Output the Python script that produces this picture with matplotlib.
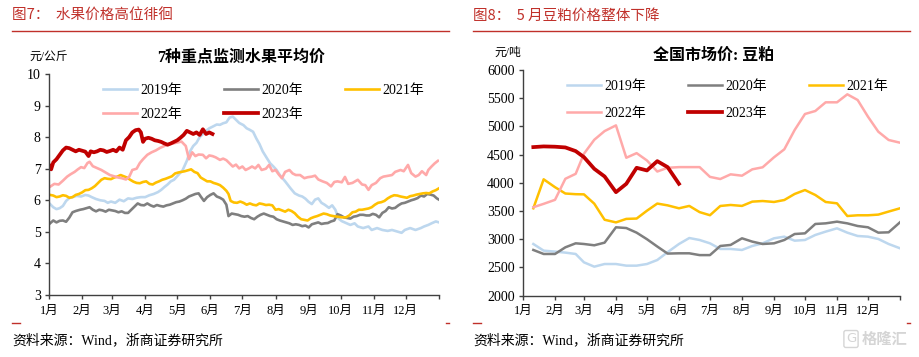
import matplotlib
matplotlib.use('Agg')
import matplotlib.pyplot as plt
from matplotlib.lines import Line2D
import pandas as pd

plt.rcParams['font.family'] = ['Liberation Serif', 'Noto Sans CJK SC', 'DejaVu Sans']

# ---------------- data ----------------
month_labels = ['1月', '2月', '3月', '4月', '5月', '6月', '7月', '8月', '9月', '10月', '11月', '12月', '']
month_start_days = [0, 31, 59, 90, 120, 151, 181, 212, 243, 273, 304, 334, 365]
years = ['2019年', '2020年', '2021年', '2022年', '2023年']

# Left: 7 key fruits average price (yuan/kg), day of year -> value
fruit_2019_days = [1, 4, 7, 10, 13, 16, 19, 22, 26, 30, 34, 37, 40, 44, 48, 52, 55, 58, 62, 66, 70, 74, 78, 82, 86, 90,
                   94, 98, 102, 105, 108, 111, 114, 117, 121, 125, 129, 132, 135, 138, 141, 144, 147, 150, 153, 157,
                   160, 163, 166, 169, 172, 175, 178, 182, 185, 188, 191, 194, 197, 200, 204, 207, 210, 213, 216, 221,
                   226, 230, 234, 237, 240, 243, 246, 249, 252, 255, 258, 262, 265, 268, 271, 274, 278, 282, 286, 289,
                   294, 299, 302, 307, 312, 317, 321, 326, 330, 333, 338, 343, 348, 351, 355, 358, 362, 365]
fruit_2019 = [5.88, 5.78, 5.72, 5.75, 5.82, 5.98, 6.07, 6.10, 6.14, 6.12, 6.17, 6.15, 6.10, 6.04, 6.00, 5.98, 5.92,
              5.96, 5.92, 6.02, 5.97, 6.06, 6.04, 6.08, 6.10, 6.10, 6.16, 6.20, 6.26, 6.33, 6.42, 6.50, 6.60, 6.65,
              6.80, 6.95, 7.25, 7.55, 7.72, 7.82, 8.00, 8.10, 8.20, 8.28, 8.33, 8.40, 8.39, 8.44, 8.47, 8.62, 8.65,
              8.55, 8.45, 8.38, 8.28, 8.23, 8.17, 7.96, 7.78, 7.55, 7.33, 7.17, 7.07, 6.96, 6.80, 6.60, 6.38, 6.22,
              6.15, 6.12, 6.05, 5.95, 5.88, 6.02, 6.06, 5.92, 5.86, 5.76, 5.84, 5.70, 5.42, 5.34, 5.28, 5.22, 5.27,
              5.17, 5.12, 5.17, 5.06, 5.12, 5.06, 5.03, 5.06, 5.01, 4.97, 5.06, 5.12, 5.06, 5.12, 5.17, 5.22, 5.27,
              5.33, 5.30]

fruit_2020_days = [1, 4, 7, 10, 13, 16, 19, 22, 25, 29, 32, 35, 38, 41, 44, 47, 50, 53, 56, 59, 62, 65, 68, 71, 74, 77,
                   80, 83, 86, 89, 92, 95, 98, 101, 104, 107, 110, 113, 116, 119, 122, 125, 128, 131, 134, 137, 140,
                   142, 145, 148, 151, 154, 157, 160, 163, 166, 168, 171, 174, 177, 180, 183, 186, 189, 192, 195, 198,
                   201, 204, 207, 210, 213, 216, 219, 222, 225, 228, 231, 234, 237, 240, 243, 246, 249, 252, 255, 258,
                   261, 264, 267, 270, 273, 276, 279, 282, 285, 288, 291, 294, 297, 300, 303, 306, 309, 312, 315, 318,
                   321, 324, 327, 330, 333, 336, 339, 342, 345, 348, 351, 354, 357, 360, 363, 365]
fruit_2020 = [5.27, 5.36, 5.30, 5.35, 5.36, 5.32, 5.45, 5.62, 5.66, 5.70, 5.72, 5.75, 5.78, 5.70, 5.65, 5.70, 5.68,
              5.64, 5.70, 5.68, 5.66, 5.62, 5.65, 5.60, 5.60, 5.70, 5.80, 5.90, 5.85, 5.84, 5.90, 5.84, 5.80, 5.85,
              5.82, 5.80, 5.84, 5.86, 5.90, 5.94, 5.96, 6.00, 6.05, 6.12, 6.16, 6.20, 6.22, 6.12, 5.98, 6.10, 6.17,
              6.22, 6.12, 6.08, 6.02, 5.86, 5.50, 5.58, 5.56, 5.54, 5.50, 5.48, 5.50, 5.44, 5.40, 5.48, 5.54, 5.58,
              5.54, 5.50, 5.48, 5.40, 5.36, 5.33, 5.30, 5.27, 5.22, 5.24, 5.22, 5.18, 5.20, 5.14, 5.24, 5.27, 5.30,
              5.25, 5.27, 5.28, 5.33, 5.36, 5.56, 5.52, 5.46, 5.44, 5.42, 5.48, 5.50, 5.54, 5.54, 5.52, 5.52, 5.57,
              5.54, 5.46, 5.60, 5.66, 5.78, 5.74, 5.76, 5.84, 5.90, 5.92, 5.96, 6.00, 6.03, 6.07, 6.15, 6.12, 6.20,
              6.18, 6.15, 6.06, 6.02]

fruit_2021_days = [1, 4, 7, 10, 13, 16, 19, 22, 25, 28, 31, 34, 37, 40, 43, 46, 49, 52, 55, 58, 61, 64, 67, 70, 73, 76,
                   79, 82, 85, 88, 91, 94, 97, 100, 103, 106, 109, 112, 115, 118, 121, 124, 127, 130, 133, 136, 139,
                   142, 145, 148, 151, 154, 157, 160, 163, 166, 168, 170, 173, 176, 179, 182, 185, 188, 191, 194, 197,
                   200, 203, 206, 209, 212, 215, 218, 221, 224, 227, 230, 233, 236, 239, 242, 245, 248, 251, 254, 257,
                   260, 263, 266, 270, 274, 278, 281, 284, 287, 290, 293, 296, 299, 302, 305, 308, 311, 314, 317, 320,
                   323, 326, 329, 332, 335, 338, 341, 344, 347, 350, 353, 356, 359, 362, 365]
fruit_2021 = [6.17, 6.15, 6.10, 6.12, 6.16, 6.14, 6.08, 6.10, 6.17, 6.20, 6.25, 6.32, 6.33, 6.38, 6.45, 6.55, 6.65,
              6.70, 6.68, 6.67, 6.72, 6.75, 6.80, 6.76, 6.72, 6.65, 6.59, 6.55, 6.54, 6.58, 6.60, 6.52, 6.50, 6.56,
              6.60, 6.65, 6.68, 6.72, 6.76, 6.85, 6.88, 6.90, 6.92, 6.95, 6.98, 6.90, 6.86, 6.72, 6.66, 6.60, 6.60,
              6.55, 6.52, 6.48, 6.40, 6.30, 6.20, 5.98, 5.93, 5.92, 5.96, 5.92, 5.86, 5.90, 5.86, 5.84, 5.90, 5.88,
              5.85, 5.86, 5.84, 5.70, 5.72, 5.68, 5.64, 5.70, 5.66, 5.59, 5.48, 5.40, 5.38, 5.36, 5.43, 5.47, 5.50,
              5.54, 5.58, 5.56, 5.52, 5.50, 5.48, 5.46, 5.46, 5.52, 5.62, 5.64, 5.70, 5.70, 5.72, 5.74, 5.78, 5.86,
              5.92, 5.94, 5.98, 6.06, 6.12, 6.16, 6.15, 6.12, 6.10, 6.08, 6.13, 6.15, 6.18, 6.20, 6.22, 6.23, 6.22,
              6.28, 6.32, 6.38]

fruit_2022_days = [1, 5, 9, 13, 17, 20, 24, 27, 30, 33, 36, 38, 41, 45, 49, 53, 57, 61, 65, 68, 72, 75, 78, 82, 85, 88,
                   92, 96, 100, 104, 108, 112, 116, 120, 124, 128, 131, 134, 137, 140, 144, 147, 150, 153, 156, 160,
                   163, 166, 169, 172, 175, 178, 181, 184, 187, 190, 193, 196, 199, 203, 206, 209, 212, 215, 218, 221,
                   225, 228, 231, 235, 239, 242, 246, 249, 252, 256, 260, 264, 267, 270, 274, 277, 280, 284, 289, 293,
                   296, 299, 302, 306, 310, 313, 318, 321, 324, 329, 332, 336, 339, 343, 346, 349, 353, 355, 358, 361,
                   364]
fruit_2022 = [6.43, 6.52, 6.50, 6.62, 6.75, 6.82, 6.90, 6.98, 7.05, 7.02, 7.18, 7.22, 7.08, 7.02, 6.96, 6.88, 6.80,
              6.76, 6.72, 6.70, 6.66, 6.74, 6.96, 7.00, 7.18, 7.30, 7.44, 7.52, 7.58, 7.66, 7.72, 7.78, 7.80, 7.83,
              7.86, 7.72, 7.30, 7.52, 7.40, 7.45, 7.44, 7.33, 7.42, 7.40, 7.36, 7.28, 7.32, 7.27, 7.17, 7.07, 7.13,
              7.01, 7.07, 6.96, 7.01, 7.07, 7.01, 7.12, 6.96, 7.00, 7.12, 6.92, 6.96, 6.82, 6.70, 6.90, 6.96, 6.85,
              6.80, 6.80, 6.70, 6.73, 6.75, 6.78, 6.66, 6.60, 6.55, 6.44, 6.58, 6.60, 6.57, 6.74, 6.52, 6.55, 6.65,
              6.50, 6.48, 6.33, 6.48, 6.55, 6.70, 6.75, 6.78, 6.80, 6.90, 6.96, 6.92, 7.12, 6.86, 6.75, 6.80, 6.92,
              6.80, 6.96, 7.07, 7.17, 7.25]

fruit_2023_days = [0, 2, 4, 7, 10, 13, 16, 19, 22, 25, 28, 31, 34, 37, 39, 42, 45, 48, 51, 54, 57, 60, 63, 66, 69, 72,
                   75, 78, 81, 84, 86, 88, 90, 93, 96, 99, 102, 105, 108, 111, 114, 117, 120, 123, 126, 129, 132, 135,
                   138, 141, 144, 147, 150, 153]
fruit_2023 = [7.12, 6.98, 7.20, 7.30, 7.44, 7.58, 7.67, 7.65, 7.60, 7.55, 7.60, 7.57, 7.54, 7.40, 7.55, 7.52, 7.55,
              7.60, 7.58, 7.53, 7.56, 7.60, 7.55, 7.67, 7.60, 7.90, 8.00, 8.15, 8.22, 8.24, 8.15, 7.85, 7.95, 7.98,
              7.95, 7.90, 7.88, 7.85, 7.80, 7.76, 7.80, 7.85, 7.90, 7.98, 8.07, 8.20, 8.15, 8.10, 8.15, 8.07, 8.25,
              8.10, 8.15, 8.10]

# Right: soybean meal national market price (yuan/ton), dekad end dates
meal_dates = ['01-10', '01-20', '01-31', '02-10', '02-20', '02-28', '03-10', '03-20', '03-31', '04-10', '04-20',
              '04-30', '05-10', '05-20', '05-31', '06-10', '06-20', '06-30', '07-10', '07-20', '07-31', '08-10',
              '08-20', '08-31', '09-10', '09-20', '09-30', '10-10', '10-20', '10-31', '11-10', '11-20', '11-30',
              '12-10', '12-20', '12-31']
meal_2019 = [2915, 2797, 2780, 2762, 2738, 2590, 2513, 2560, 2560, 2531, 2531, 2560, 2631, 2770, 2915, 3021, 2986,
             2927, 2827, 2827, 2809, 2880, 2927, 3016, 3045, 2974, 2986, 3075, 3134, 3193, 3116, 3057, 3045, 3004,
             2915, 2839]
meal_2020 = [2809, 2738, 2738, 2856, 2927, 2915, 2892, 2939, 3211, 3198, 3116, 3000, 2870, 2745, 2750, 2750, 2718,
             2718, 2880, 2898, 3016, 2957, 2915, 2927, 2986, 3092, 3104, 3270, 3281, 3311, 3281, 3234, 3211, 3116,
             3122, 3300]
meal_2021 = [3548, 4062, 3922, 3810, 3798, 3795, 3630, 3345, 3298, 3360, 3366, 3505, 3632, 3600, 3548, 3590, 3480,
             3425, 3589, 3607, 3590, 3666, 3677, 3660, 3695, 3802, 3872, 3784, 3660, 3636, 3411, 3424, 3424, 3436,
             3490, 3548]
meal_2022 = [3567, 3627, 3698, 4071, 4159, 4515, 4763, 4917, 5018, 4444, 4526, 4396, 4200, 4266, 4278, 4278, 4278,
             4105, 4067, 4150, 4126, 4239, 4275, 4452, 4594, 4936, 5220, 5273, 5427, 5427, 5569, 5468, 5172, 4906,
             4759, 4711]
meal_2023 = [4633, 4645, 4640, 4627, 4562, 4455, 4248, 4112, 3834, 3982, 4266, 4219, 4384, 4278, 3982]

# ---------------- style ----------------
RED = '#C0302A'
colors = ['#BDD7EE', '#7F7F7F', '#FFC000', '#FFA9A9', '#C00000']
CJK = ['Liberation Serif', 'Noto Sans CJK SC', 'DejaVu Sans']

W, H = 920, 357
fig = plt.figure(figsize=(W / 100, H / 100), dpi=100)


def fx(x):
    return x / W


def fy(y):
    return 1 - y / H


axL = fig.add_axes([fx(49), fy(295), 390 / W, 221 / H])
axR = fig.add_axes([fx(523), fy(295.6), 377 / W, 225.6 / H])

meal_days = [pd.Timestamp('2023-' + d).dayofyear for d in meal_dates]

left_series = [(fruit_2019_days, fruit_2019), (fruit_2020_days, fruit_2020), (fruit_2021_days, fruit_2021),
               (fruit_2022_days, fruit_2022), (fruit_2023_days, fruit_2023)]
handlesL = []
for i, (d, v) in enumerate(left_series):
    lw = 2.7 if i == 4 else 1.9
    h, = axL.plot(d, v, color=colors[i], lw=lw, label=years[i], solid_joinstyle='round')
    handlesL.append(h)

right_series = [meal_2019, meal_2020, meal_2021, meal_2022, meal_2023]
handlesR = []
for i, v in enumerate(right_series):
    lw = 2.7 if i == 4 else 1.8
    h, = axR.plot(meal_days[:len(v)], v, color=colors[i], lw=lw, label=years[i], solid_joinstyle='round')
    handlesR.append(h)


def style_axes(ax, ylim, yticks):
    ax.set_xlim(0, 365)
    ax.set_ylim(*ylim)
    ax.set_yticks(yticks)
    ax.set_xticks(month_start_days)
    ax.set_xticklabels(month_labels, fontsize=9, family=CJK)
    for s in ['top', 'right']:
        ax.spines[s].set_visible(False)
    for s in ['left', 'bottom']:
        ax.spines[s].set_color('#404040')
        ax.spines[s].set_linewidth(1.0)
    ax.tick_params(axis='both', direction='out', length=3, width=1, color='#404040', labelcolor='black')
    ax.tick_params(axis='y', labelsize=10, pad=3)
    ax.tick_params(axis='x', pad=4)
    for t in ax.get_yticklabels():
        t.set_family(CJK)
    ax.patch.set_alpha(0)


style_axes(axL, (3, 10), list(range(3, 11)))
style_axes(axR, (2000, 6000), list(range(2000, 6001, 500)))

order = [0, 3, 1, 4, 2]
legL = axL.legend([handlesL[i] for i in order], [years[i] for i in order], ncol=3, frameon=False,
                  loc='upper left', bbox_to_anchor=((103 - 49) / 390, (295 - 84) / 221), borderpad=0,
                  borderaxespad=0, handlelength=2.45, handletextpad=0.25, columnspacing=3.0, labelspacing=0.8,
                  prop={'family': CJK, 'size': 10})
legR = axR.legend([handlesR[i] for i in order], [years[i] for i in order], ncol=3, frameon=False,
                  loc='upper left', bbox_to_anchor=((567 - 523) / 377, (295.6 - 80) / 225.6), borderpad=0,
                  borderaxespad=0, handlelength=2.45, handletextpad=0.25, columnspacing=3.0, labelspacing=1.0,
                  prop={'family': CJK, 'size': 10})

# ---------------- figure texts ----------------
fig.text(fx(12), fy(16), '图7：  水果价格高位徘徊', color=RED, fontsize=10.5, family=['Noto Sans CJK SC'],
         ha='left', va='center')
fig.text(fx(473), fy(16), '图8：  5 月豆粕价格整体下降', color=RED, fontsize=10.5, family=['Noto Sans CJK SC'],
         ha='left', va='center')
fig.add_artist(Line2D([fx(12), fx(449)], [fy(31), fy(31)], color=RED, lw=1))
fig.add_artist(Line2D([fx(473), fx(910)], [fy(31), fy(31)], color=RED, lw=1))

fig.text(fx(241), fy(58), '7种重点监测水果平均价', fontsize=11.5, fontweight='bold', family=CJK,
         ha='center', va='center')
fig.text(fx(714), fy(56), '全国市场价: 豆粕', fontsize=11.5, fontweight='bold', family=CJK,
         ha='center', va='center')
fig.text(fx(49), fy(58), '元/公斤', fontsize=8.5, family=CJK, ha='center', va='center')
fig.text(fx(508), fy(53), '元/吨', fontsize=8.5, family=CJK, ha='center', va='center')

fig.text(fx(12), fy(340), '资料来源：Wind，浙商证券研究所', fontsize=10, family=CJK, ha='left', va='center')
fig.text(fx(473), fy(340), '资料来源：Wind，浙商证券研究所', fontsize=10, family=CJK, ha='left', va='center')

for x0, x1 in [(12, 20), (446, 449), (473, 481), (907, 910)]:
    fig.add_artist(Line2D([fx(x0), fx(x1)], [fy(323), fy(323)], color=RED, lw=1))

# watermark
fig.text(fx(851), fy(339), 'G', fontsize=9.5, color='#D5D5D5', ha='center', va='center', family=['DejaVu Sans'],
         bbox=dict(boxstyle='round,pad=0.15', fc='none', ec='#D5D5D5', lw=1))
fig.text(fx(862), fy(339), '格隆汇', fontsize=11, color='#D5D5D5', ha='left', va='center',
         family=['Noto Sans CJK SC'], fontweight='bold')

fig.savefig('out.png', dpi=100)
